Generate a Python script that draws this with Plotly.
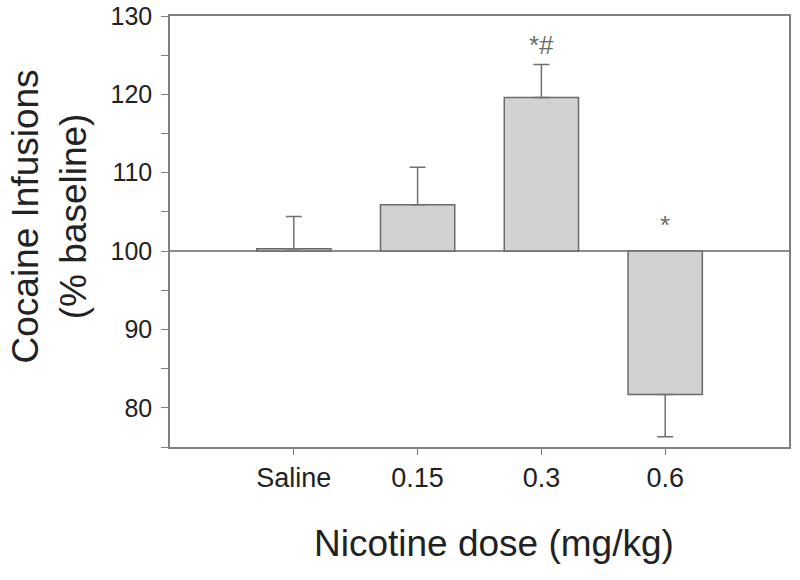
import plotly.graph_objects as go

# values (% of baseline)
doses = ["Saline", "0.15", "0.3", "0.6"]
means = [100.3, 105.9, 119.6, 81.7]
sem = [4.1, 4.8, 4.2, 5.4]
marks = ["", "", "*#", "*"]

baseline = 100
xpos = list(range(1, len(doses) + 1))

fig = go.Figure()

# bars grow from the 100% line
fig.add_trace(go.Bar(
    x=xpos,
    y=[m - baseline for m in means],
    base=baseline,
    width=0.6,
    marker=dict(color="#d2d2d2", line=dict(color="#6a6a6a", width=1.5)),
    hoverinfo="skip",
))

# one-sided error bars, pointing away from the baseline
fig.add_trace(go.Scatter(
    x=xpos,
    y=means,
    mode="markers",
    marker=dict(size=1, color="rgba(0,0,0,0)"),
    error_y=dict(
        type="data",
        symmetric=False,
        array=[s if m >= baseline else 0 for m, s in zip(means, sem)],
        arrayminus=[s if m < baseline else 0 for m, s in zip(means, sem)],
        color="#707070",
        thickness=1.5,
        width=8,
    ),
    hoverinfo="skip",
))

# significance marks
for x, m, s, t in zip(xpos, means, sem, marks):
    if not t:
        continue
    y = m + s + 2.5 if m >= baseline else baseline + 3.3
    fig.add_annotation(x=x, y=y, text=t, showarrow=False, yanchor="middle",
                       font=dict(size=26, color="#6a6a6a"))

# 100% reference line
fig.add_shape(type="line", xref="paper", x0=0, x1=1, yref="y",
              y0=baseline, y1=baseline, layer="below",
              line=dict(color="#666666", width=1.5))

fig.add_annotation(
    text="Cocaine Infusions<br>(% baseline)",
    xref="paper", yref="paper", x=0, y=0.5, xshift=-121, yshift=15,
    xanchor="center", yanchor="middle",
    textangle=-90, showarrow=False, align="center",
    font=dict(size=37, color="#222222"),
)
fig.add_annotation(
    text="Nicotine dose (mg/kg)",
    xref="paper", yref="paper", x=0.5, y=0, xshift=14, yshift=-96,
    xanchor="center", yanchor="middle",
    showarrow=False,
    font=dict(size=37, color="#222222"),
)

fig.update_layout(
    width=800, height=580,
    margin=dict(l=170, r=11, t=16, b=133),
    paper_bgcolor="white", plot_bgcolor="white",
    showlegend=False,
    font=dict(family="Liberation Sans, Arial, sans-serif", size=24, color="#222222"),
    xaxis=dict(
        range=[0, 5], tickvals=xpos, ticktext=doses, automargin=False,
        ticks="outside", ticklen=6, tickcolor="#808080",
        showline=True, linecolor="#808080", linewidth=1.5, mirror=True,
        showgrid=False, zeroline=False, tickfont=dict(size=27),
    ),
    yaxis=dict(
        range=[75, 130], tickvals=[80, 90, 100, 110, 120, 130], automargin=False,
        ticks="outside", ticklen=7, tickcolor="#808080", ticklabelstandoff=4,
        ticklabeloverflow="allow",
        minor=dict(dtick=5, ticks="outside", ticklen=7, tickcolor="#808080"),
        showline=True, linecolor="#808080", linewidth=1.5, mirror=True,
        showgrid=False, zeroline=False, tickfont=dict(size=25),
    ),
)

# drop the page's default body margin so the figure sits at the top-left corner
fig.write_html("out.html", config={"displayModeBar": False},
               post_script="document.body.style.margin = '0';")
